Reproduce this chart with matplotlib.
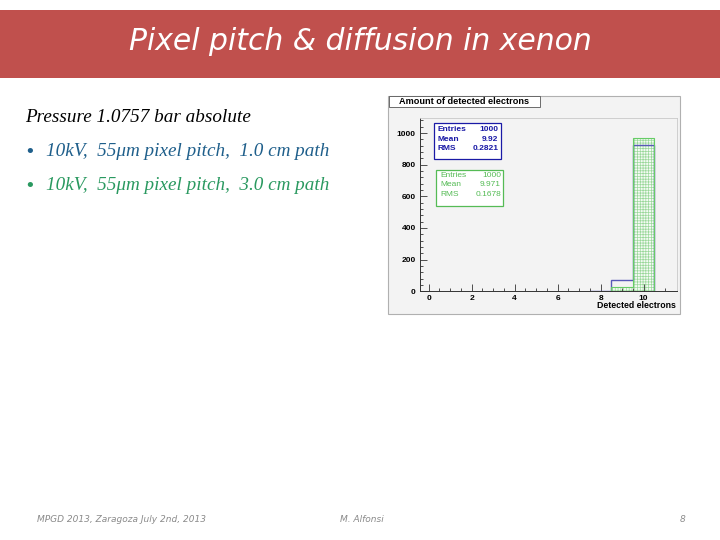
import matplotlib.pyplot as plt
import numpy as np
from matplotlib.patches import Rectangle

# histogram contents (bin centres -> counts)
bins_blue = [8, 9, 10]
counts_blue = [3, 74, 923]
bins_green = [9, 10]
counts_green = [29, 971]

stats_blue = [("Entries", "1000"), ("Mean", "9.92"), ("RMS", "0.2821")]
stats_green = [("Entries", "1000"), ("Mean", "9.971"), ("RMS", "0.1678")]

title = "Pixel pitch & diffusion in xenon"
subtitle = "Pressure 1.0757 bar absolute"
bullets = [
    ("10kV,  55μm pixel pitch,  1.0 cm path", "#1f5f8b"),
    ("10kV,  55μm pixel pitch,  3.0 cm path", "#2a9960"),
]
footer = ["MPGD 2013, Zaragoza July 2nd, 2013", "M. Alfonsi", "8"]

W, H = 720, 540


def fx(px):
    return px / W


def fy(py):
    return 1 - py / H


def edges_of(centres):
    c = np.asarray(centres, dtype=float)
    return np.append(c - 0.5, c[-1] + 0.5)


def stat_box(ax, x, y, rows, color, weight):
    t1 = "\n".join(r[0] for r in rows)
    t2 = "\n".join(r[1] for r in rows)
    ax.text(x, y, t1, transform=ax.transAxes, fontsize=6, color=color,
            va="top", ha="left", fontweight=weight, linespacing=1.55,
            family="Liberation Sans", zorder=5)
    ax.text(x + 0.235, y, t2, transform=ax.transAxes, fontsize=6, color=color,
            va="top", ha="right", fontweight=weight, linespacing=1.55,
            family="Liberation Sans", zorder=5)


def main():
    plt.rcParams["hatch.linewidth"] = 0.5
    fig = plt.figure(figsize=(7.2, 5.4), dpi=100)
    fig.patch.set_facecolor("white")

    # title bar
    fig.patches.append(Rectangle((0, fy(78)), 1, (78 - 10) / H,
                                 transform=fig.transFigure,
                                 facecolor="#c0504d", edgecolor="none",
                                 zorder=-2))
    fig.text(0.5, fy(42), title, ha="center", va="center", color="white",
             fontsize=21.5, family="DejaVu Sans", style="italic",
             fontweight="light")

    # body text
    fig.text(fx(25), fy(118), subtitle, ha="left", va="center",
             family="Liberation Serif", style="italic", fontsize=13.8,
             color="black")
    for i, (txt, col) in enumerate(bullets):
        yy = fy(152 + 34 * i)
        fig.text(fx(24), yy, "•", ha="left", va="center", fontsize=13,
                 color=col, family="DejaVu Sans")
        fig.text(fx(46), yy, txt, ha="left", va="center",
                 family="Liberation Serif", style="italic", fontsize=13.8,
                 color=col)

    # footer
    fig.text(fx(37), fy(520), footer[0], ha="left", va="center", fontsize=6.5,
             color="#8a8a8a", style="italic")
    fig.text(fx(340), fy(520), footer[1], ha="left", va="center", fontsize=6.5,
             color="#8a8a8a", style="italic")
    fig.text(fx(683), fy(520), footer[2], ha="center", va="center",
             fontsize=6.5, color="#8a8a8a", style="italic")

    # ROOT canvas panel
    fig.patches.append(Rectangle((fx(388), fy(314)), (680 - 388) / W,
                                 (314 - 96) / H, transform=fig.transFigure,
                                 facecolor="#f3f3f3", edgecolor="#b0b0b0",
                                 linewidth=0.8, zorder=-1))
    fig.patches.append(Rectangle((fx(389), fy(107)), (540 - 389) / W,
                                 (107 - 96) / H, transform=fig.transFigure,
                                 facecolor="white", edgecolor="#555555",
                                 linewidth=0.6, zorder=-0.5))
    fig.text(fx(464), fy(101.5), "Amount of detected electrons",
             ha="center", va="center", fontsize=6.6, fontweight="bold",
             family="Liberation Sans")

    ax = fig.add_axes([fx(420), fy(291.3), (677 - 420) / W,
                       (291.3 - 118) / H])
    ax.set_facecolor("#f3f3f3")

    ax.stairs(counts_green, edges_of(bins_green), fill=True,
              facecolor="#f4fbf4", edgecolor="#9ad89a", hatch="++++++",
              linewidth=0.4, zorder=1)
    ax.stairs(counts_blue, edges_of(bins_blue), color="#5858b8",
              linewidth=1.0, zorder=2)
    ax.stairs(counts_green, edges_of(bins_green), color="#66cc66",
              linewidth=0.8, zorder=3)

    ax.set_xlim(-0.4, 11.55)
    ax.set_ylim(0, 1095)
    ax.set_xticks(np.arange(0, 11, 2))
    ax.set_xticks(np.arange(0, 11.5, 0.5), minor=True)
    ax.set_yticks(np.arange(0, 1001, 200))
    ax.set_yticks(np.arange(0, 1090, 40), minor=True)
    ax.tick_params(which="both", direction="in", labelsize=6, color="#333333",
                   width=0.6)
    ax.tick_params(which="major", length=5, pad=3)
    ax.tick_params(which="minor", length=2.5)
    for lab in ax.get_xticklabels() + ax.get_yticklabels():
        lab.set_fontweight("bold")
        lab.set_family("Liberation Sans")
    for side in ("top", "right"):
        ax.spines[side].set_color("#c8c8c8")
        ax.spines[side].set_linewidth(0.6)
    for side in ("left", "bottom"):
        ax.spines[side].set_color("#333333")
        ax.spines[side].set_linewidth(0.7)

    fig.text(fx(676), fy(306), "Detected electrons", ha="right",
             va="center", fontsize=6.3, fontweight="bold",
             family="Liberation Sans")

    # stat boxes
    stat_box(ax, 0.07, 0.955, stats_blue, "#1a1aa6", "bold")
    ax.add_patch(Rectangle((0.055, 0.765), 0.26, 0.205,
                           transform=ax.transAxes, facecolor="white",
                           edgecolor="#1a1aa6", linewidth=0.9, zorder=4))
    stat_box(ax, 0.08, 0.69, stats_green, "#55bb55", "normal")
    ax.add_patch(Rectangle((0.062, 0.49), 0.26, 0.21,
                           transform=ax.transAxes, facecolor="white",
                           edgecolor="#55bb55", linewidth=0.9, zorder=4))

    fig.savefig("out.png", dpi=100)


if __name__ == "__main__":
    main()
